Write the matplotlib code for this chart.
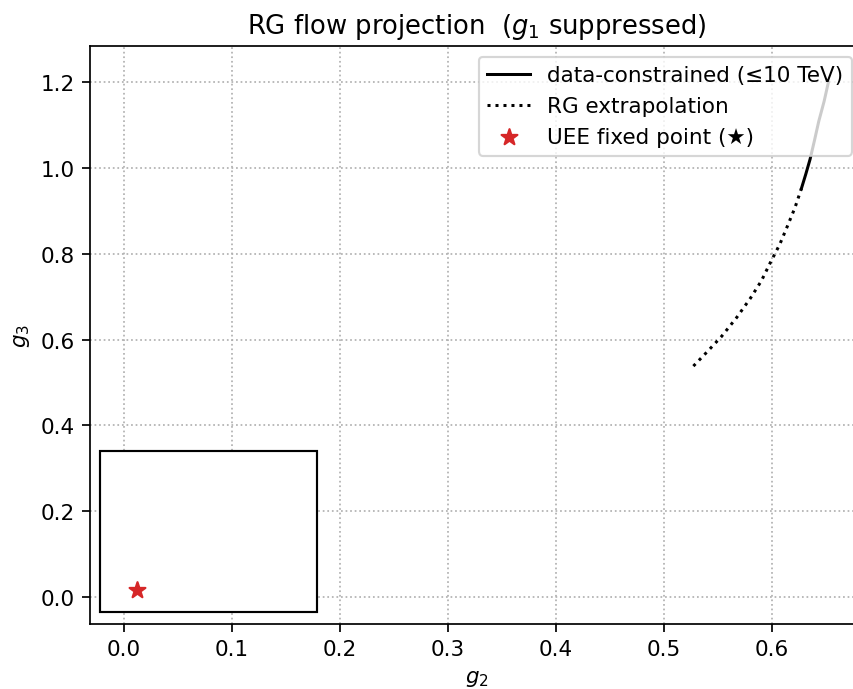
import numpy as np
import matplotlib.pyplot as plt
from matplotlib.patches import Rectangle

plt.rcParams["font.family"] = "DejaVu Sans"

# RG trajectory projected on the (g2, g3) plane
g2_extrap = [0.527, 0.540, 0.553, 0.567, 0.580, 0.590, 0.598, 0.607, 0.614, 0.621, 0.627]
g3_extrap = [0.538, 0.572, 0.607, 0.651, 0.697, 0.737, 0.778, 0.822, 0.864, 0.907, 0.952]
g2_data = [0.627, 0.631, 0.635, 0.639, 0.643, 0.648, 0.652]
g3_data = [0.952, 0.985, 1.020, 1.063, 1.108, 1.155, 1.200]

# UEE fixed point
star_g2 = [0.012]
star_g3 = [0.017]

# zoom box around the fixed point
box_g2 = (-0.022, 0.179)
box_g3 = (-0.035, 0.340)

DPI = 155
fig = plt.figure(figsize=(853 / DPI, 690 / DPI), dpi=DPI)
# axes run slightly past the right edge of the canvas, as in the original crop
ax = fig.add_axes([90 / 853, 65 / 690, 773 / 853, 578 / 690])

ax.plot(g2_data, g3_data, color="black", lw=1.4, label="data-constrained (≤10 TeV)")
ax.plot(g2_extrap, g3_extrap, color="black", lw=1.4, ls=":", label="RG extrapolation")
ax.scatter(star_g2, star_g3, marker="*", s=60, color="#d62728", zorder=4,
           label="UEE fixed point (★)")

ax.add_patch(Rectangle((box_g2[0], box_g3[0]), box_g2[1] - box_g2[0], box_g3[1] - box_g3[0],
                       facecolor="white", edgecolor="black", lw=1.0, zorder=3))

ax.set_xlim(-0.0315, 0.684)
ax.set_ylim(-0.063, 1.284)
ax.set_xticks(np.arange(0, 0.61, 0.1))
ax.set_yticks(np.arange(0, 1.21, 0.2))
ax.grid(True, ls=":", color="#b0b0b0", lw=0.8)

ax.set_xlabel("$g_2$")
ax.set_ylabel("$g_3$")
ax.set_title("RG flow projection  ($g_1$ suppressed)")
ax.legend(loc="upper right")

fig.savefig("out.png", dpi=DPI)
